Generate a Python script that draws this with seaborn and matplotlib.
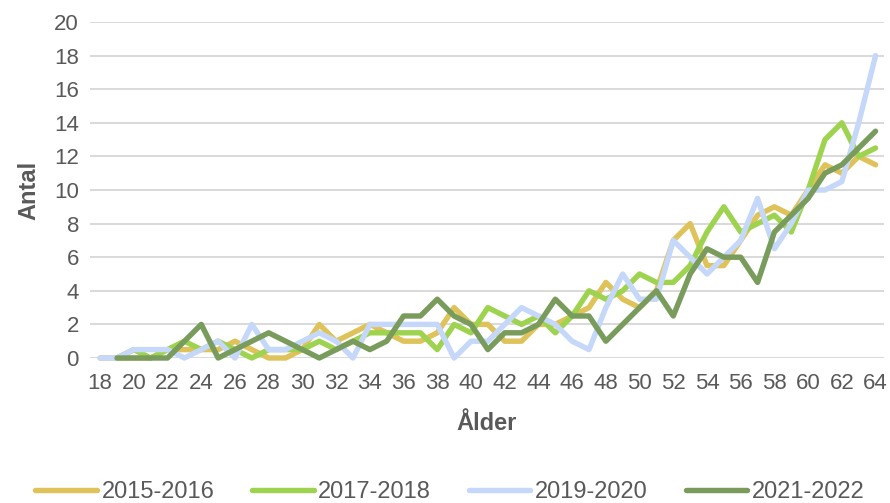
import numpy as np
import pandas as pd
import seaborn as sns
from matplotlib import pyplot as plt

# Ålder 18-64, antal per period
ages = list(range(18, 65))
periods = ["2015-2016", "2017-2018", "2019-2020", "2021-2022"]

antal_2015 = [0, 0, 0, 0, 0.5, 0.5, 0.5, 0.5, 1, 0.5, 0, 0, 0.5, 2, 1, 1.5,
              2, 1.5, 1, 1, 1.5, 3, 2, 2, 1, 1, 2, 2, 2.5, 3, 4.5, 3.5,
              3, 4, 7, 8, 5.5, 5.5, 7, 8.5, 9, 8.5, 10, 11.5, 11, 12, 11.5]
antal_2017 = [np.nan, 0, 0.5, 0, 0.5, 1, 0.5, 1, 0.5, 0, 0.5, 0.5, 0.5, 1, 0.5, 1,
              1.5, 1.5, 1.5, 1.5, 0.5, 2, 1.5, 3, 2.5, 2, 2.5, 1.5, 2.5, 4, 3.5, 4,
              5, 4.5, 4.5, 5.5, 7.5, 9, 7.5, 8, 8.5, 7.5, 10, 13, 14, 12, 12.5]
antal_2019 = [0, 0, 0.5, 0.5, 0.5, 0, 0.5, 1, 0, 2, 0.5, 0.5, 1, 1.5, 1, 0,
              2, 2, 2, 2, 2, 0, 1, 1, 2, 3, 2.5, 2, 1, 0.5, 3, 5,
              3.5, 3.5, 7, 6, 5, 6, 7, 9.5, 6.5, 8, 10, 10, 10.5, 14, 18]
antal_2021 = [np.nan, 0, 0, 0, 0, 1, 2, 0, 0.5, 1, 1.5, 1, 0.5, 0, 0.5, 1,
              0.5, 1, 2.5, 2.5, 3.5, 2.5, 2, 0.5, 1.5, 1.5, 2, 3.5, 2.5, 2.5, 1, 2,
              3, 4, 2.5, 5, 6.5, 6, 6, 4.5, 7.5, 8.5, 9.5, 11, 11.5, 12.5, 13.5]

colors = ["#DFC35A", "#9DD34E", "#C5D8FA", "#799C5C"]

df = pd.concat(
    [
        pd.DataFrame({"Ålder": ages, "Antal": vals, "Period": p})
        for p, vals in zip(periods, [antal_2015, antal_2017, antal_2019, antal_2021])
    ],
    ignore_index=True,
)

sns.set_style("white")
plt.rcParams["font.family"] = ["Liberation Sans", "DejaVu Sans"]

fig = plt.figure(figsize=(8.9, 5.03), dpi=100)
ax = fig.add_axes([90 / 890, 1 - 358 / 503, 794 / 890, 336 / 503])

sns.lineplot(
    data=df,
    x="Ålder",
    y="Antal",
    hue="Period",
    hue_order=periods,
    palette=colors,
    linewidth=3.9,
    ax=ax,
    legend=True,
    clip_on=False,
)

ax.set_xlim(17.4, 64.5)
ax.set_ylim(0, 20)
ax.set_xticks(range(18, 65, 2))
ax.set_yticks(range(0, 21, 2))
ax.grid(axis="y", color="#D9D9D9", linewidth=1.4)
ax.set_axisbelow(True)
for s in ax.spines.values():
    s.set_visible(False)
ax.tick_params(axis="both", length=0, labelsize=16, colors="#595959")
ax.tick_params(axis="x", pad=11)
ax.tick_params(axis="y", pad=8)

ax.set_xlabel("Ålder", fontsize=17, fontweight="bold", color="#595959", labelpad=13)
ax.set_ylabel("Antal", fontsize=17, fontweight="bold", color="#595959", labelpad=10)

handles, labels = ax.get_legend_handles_labels()
ax.legend(
    handles,
    labels,
    loc="center",
    bbox_to_anchor=(450 / 890, 11 / 503),
    bbox_transform=fig.transFigure,
    ncol=4,
    frameon=False,
    fontsize=17,
    handlelength=2.6,
    handletextpad=0.2,
    columnspacing=1.6,
    labelcolor="#595959",
)

fig.savefig("out.png", dpi=100)
